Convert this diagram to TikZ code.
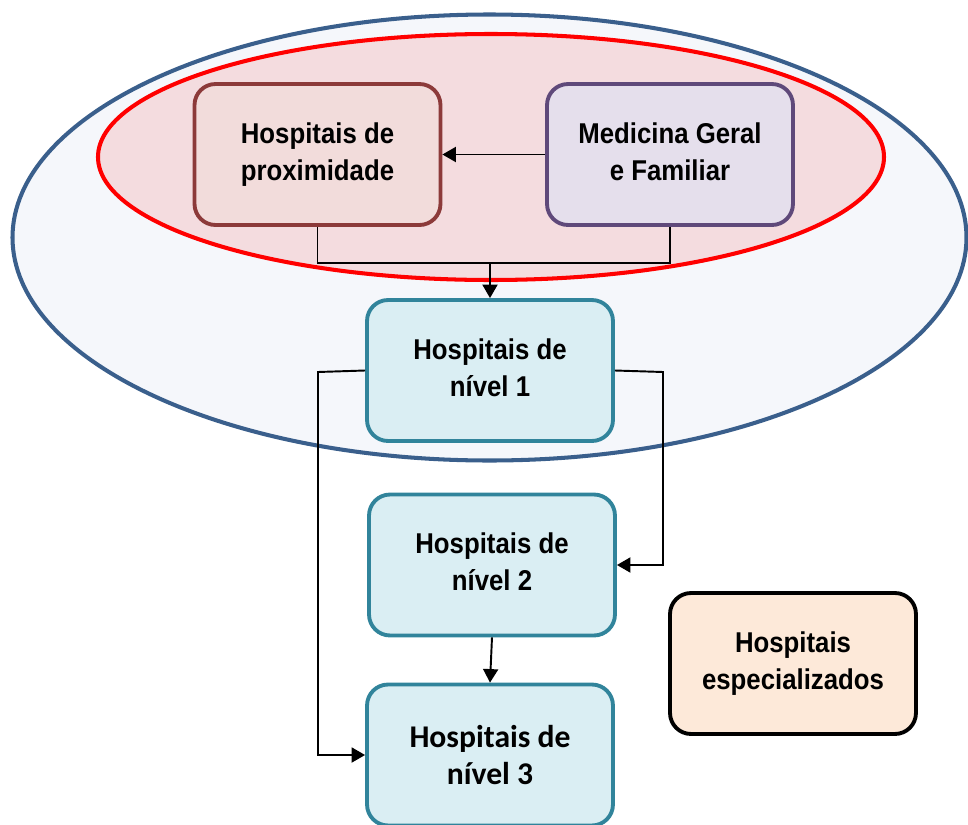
\documentclass[tikz,border=0pt]{standalone}
\usepackage{fontspec}
\usepackage{graphicx}
\setmainfont{Liberation Sans}
\newfontfamily\calfont{Carlito}
\usetikzlibrary{arrows.meta}
\newcommand{\twoline}[2]{\raisebox{-0.07cm}{\scalebox{0.9}[1]{\begin{tabular}{@{}c@{}}#1\\#2\end{tabular}}}}
\definecolor{outerline}{HTML}{3A5F8C}
\definecolor{outerfill}{HTML}{F5F7FB}
\definecolor{redline}{HTML}{FF0000}
\definecolor{redfill}{HTML}{F4DCDF}
\definecolor{proxline}{HTML}{8C3A3A}
\definecolor{proxfill}{HTML}{F2DCDB}
\definecolor{medline}{HTML}{5F497A}
\definecolor{medfill}{HTML}{E5DFEC}
\definecolor{nivline}{HTML}{31849B}
\definecolor{nivfill}{HTML}{DAEEF3}
\definecolor{specfill}{HTML}{FDE9D9}
\tikzset{
  hbox/.style={draw, line width=2.2pt, rounded corners=0.42cm, minimum width=4.92cm, minimum height=2.82cm,
    align=center, inner sep=0pt, font=\bfseries\fontsize{16.3}{21}\selectfont},
  conn/.style={line width=1.1pt, -{Triangle[length=0.27cm,width=0.3cm]}},
  plain/.style={line width=1.1pt}
}
\begin{document}
\begin{tikzpicture}[x=0.02cm,y=-0.02cm]
\useasboundingbox (0,0) rectangle (968,825);
\clip (0,0) rectangle (968,825);
\draw[line width=2.3pt, draw=outerline, fill=outerfill] (489.5,237.5) ellipse [x radius=477, y radius=223];
\draw[line width=2.3pt, draw=redline, fill=redfill] (491,157) ellipse [x radius=393, y radius=123];

\node[hbox, draw=proxline, fill=proxfill] (prox) at (317.5,154.5) {\twoline{Hospitais de}{proximidade}};
\node[hbox, draw=medline, fill=medfill] (med) at (670,154.5) {\twoline{Medicina Geral}{e Familiar}};
\node[hbox, draw=nivline, fill=nivfill] (n1) at (490,370.5) {\twoline{Hospitais de}{nível 1}};
\node[hbox, draw=nivline, fill=nivfill] (n2) at (492,565) {\twoline{Hospitais de}{nível 2}};
\node[hbox, draw=nivline, fill=nivfill, font=\calfont\bfseries\fontsize{18}{21.5}\selectfont] (n3) at (490,755) {Hospitais de\\nível 3};
\node[hbox, draw=black, fill=specfill] (spec) at (793,663.5) {\twoline{Hospitais}{especializados}};

\coordinate (j) at (490,263);
\coordinate (lt) at (318,372);
\coordinate (rt) at (663,372);

\draw[conn] (med.west) -- (prox.east);
\draw[plain] (prox.south) |- (j);
\draw[plain] (med.south) |- (j);
\draw[conn] (j) -- (n1.north);
\draw[conn] (n1.west) -- (lt) |- (n3.west);
\draw[conn] (n1.east) -- (rt) |- (n2.east);
\draw[conn] (n2.south) -- (n3.north);
\end{tikzpicture}
\end{document}
